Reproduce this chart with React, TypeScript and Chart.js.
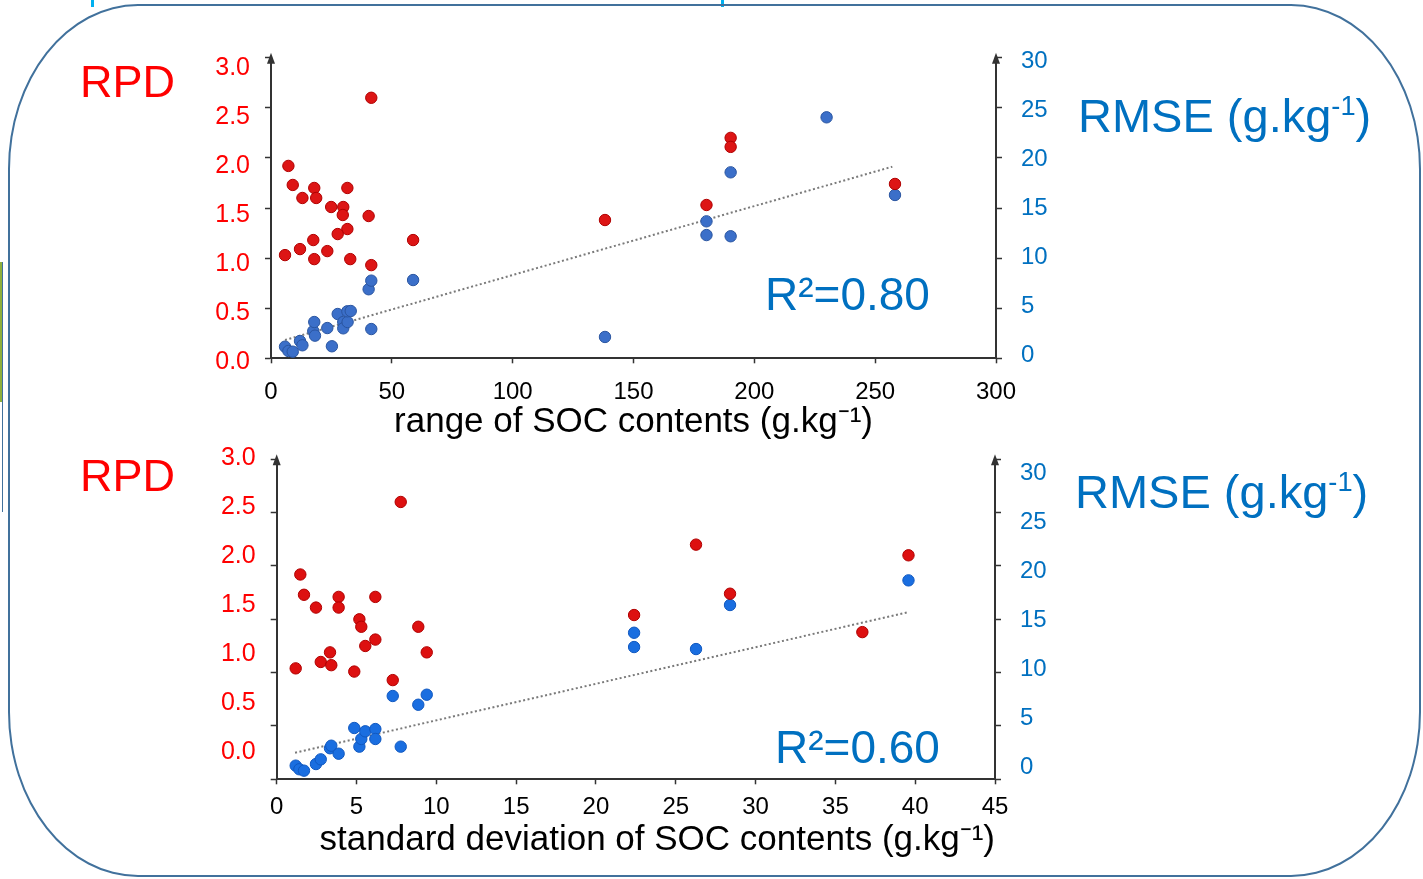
import React, { useEffect, useRef } from 'react';
import { Chart, registerables } from 'chart.js';

Chart.register(...registerables);

// ---------- data: top panel (range of SOC contents) ----------
const rangeRedX = [7.2, 9.0, 13.0, 17.9, 18.7, 24.9, 29.9, 29.7, 31.6, 40.4, 41.5, 31.6, 27.6, 17.5, 12.0, 5.8, 17.9, 23.3, 32.8, 41.5, 58.8, 138.2, 180.2, 190.2, 190.2, 258.2];
const rangeRPD = [1.92, 1.73, 1.60, 1.70, 1.60, 1.51, 1.51, 1.43, 1.70, 1.42, 2.60, 1.29, 1.24, 1.18, 1.09, 1.03, 0.99, 1.07, 0.99, 0.93, 1.18, 1.38, 1.53, 2.20, 2.11, 1.74];
const rangeBlueX = [5.8, 7.2, 9.0, 12.0, 13.0, 17.5, 17.9, 18.2, 23.3, 25.2, 27.6, 29.9, 29.9, 31.7, 31.6, 33.0, 40.4, 41.5, 41.5, 58.8, 138.2, 180.2, 180.2, 190.2, 190.2, 229.9, 258.2];
const rangeRMSE = [1.16, 0.73, 0.66, 1.73, 1.30, 2.72, 3.62, 2.26, 3.02, 1.20, 4.42, 3.62, 2.99, 3.62, 4.69, 4.72, 6.89, 7.75, 2.92, 7.81, 2.13, 13.67, 12.30, 18.56, 12.18, 24.05, 16.30];
const rangeTrendX = [5.8, 257.1];
const rangeTrendY = [1.83, 19.12];

// ---------- data: bottom panel (standard deviation of SOC contents) ----------
const sdRedX = [1.48, 1.71, 2.46, 3.88, 3.88, 5.18, 5.30, 6.18, 6.18, 5.55, 8.87, 9.40, 3.34, 2.76, 3.42, 1.19, 4.86, 7.27, 7.77, 22.39, 26.27, 28.40, 36.69, 39.58];
const sdRPD = [1.92, 1.73, 1.61, 1.71, 1.61, 1.50, 1.43, 1.71, 1.31, 1.25, 1.43, 1.19, 1.19, 1.10, 1.07, 1.04, 1.01, 0.93, 2.60, 1.54, 2.20, 1.74, 1.38, 2.10];
const sdBlueX = [1.19, 1.42, 1.71, 2.46, 2.76, 3.34, 3.42, 3.88, 4.86, 5.18, 5.30, 5.55, 6.18, 6.18, 7.77, 7.27, 8.87, 9.40, 22.39, 22.39, 26.27, 28.40, 39.58];
const sdRMSE = [1.28, 0.94, 0.81, 1.43, 1.87, 2.91, 3.15, 2.40, 4.81, 3.06, 3.78, 4.50, 4.71, 3.78, 3.06, 7.81, 6.99, 7.93, 13.74, 12.40, 12.21, 16.34, 18.65];
const sdTrendX = [1.15, 39.51];
const sdTrendY = [2.49, 15.65];

// ---------- ticks ----------
const rpdTicks = [0, 0.5, 1.0, 1.5, 2.0, 2.5, 3.0];
const rmseTicks = [0, 5, 10, 15, 20, 25, 30];
const rangeTicks = [0, 50, 100, 150, 200, 250, 300];
const sdTicks = [0, 5, 10, 15, 20, 25, 30, 35, 40, 45];

const FONT = '"Liberation Sans", Arial, Helvetica, sans-serif';
const AXIS = '#333333';
const RED = '#FF0000';
const BLUE_TXT = '#0070C0';

const pts = (xs: number[], ys: number[]) => xs.map((x, i) => ({ x, y: ys[i] }));
const setTicks = (values: number[]) => (axis: any) => {
  axis.ticks = values.map((v) => ({ value: v }));
};
const noPad = (s: any) => {
  s.paddingTop = 0;
  s.paddingBottom = 0;
  s.paddingLeft = 0;
  s.paddingRight = 0;
};

type Panel = {
  h: number;
  left: number;
  right: number;
  top: number;
  bottom: number;
  xMax: number;
  xTicks: number[];
  xTitle: string;
  titleAlign: 'start' | 'center' | 'end';
  titleSize: number;
  titleLineHeight: number;
  titlePadBottom: number;
  xLabelPad: number;
  labL: [number, number];
  labR: [number, number];
  redX: number[];
  redY: number[];
  blueX: number[];
  blueY: number[];
  trendX: number[];
  trendY: number[];
  red: string;
  redEdge: string;
  blue: string;
  blueEdge: string;
};

function makeConfig(p: Panel): any {
  const arrows = {
    id: 'arrows',
    afterDraw(chart: any) {
      const { ctx, chartArea } = chart;
      ctx.save();
      ctx.fillStyle = AXIS;
      [chartArea.left, chartArea.right].forEach((x: number) => {
        ctx.beginPath();
        ctx.moveTo(x, chartArea.top - 5);
        ctx.lineTo(x - 4, chartArea.top + 6);
        ctx.lineTo(x + 4, chartArea.top + 6);
        ctx.closePath();
        ctx.fill();
      });
      ctx.restore();
    },
  };
  const dataAxisGrid = {
    display: true,
    drawOnChartArea: false,
    drawTicks: true,
    tickLength: 6,
    tickColor: AXIS,
    tickWidth: 1.5,
  };
  const border = { display: true, color: AXIS, width: 2 };
  return {
    type: 'scatter',
    data: {
      datasets: [
        {
          label: 'RPD',
          data: pts(p.redX, p.redY),
          yAxisID: 'y',
          backgroundColor: p.red,
          borderColor: p.redEdge,
          borderWidth: 1,
          pointRadius: 5.7,
          order: 1,
        },
        {
          label: 'RMSE',
          data: pts(p.blueX, p.blueY),
          yAxisID: 'yRMSE',
          backgroundColor: p.blue,
          borderColor: p.blueEdge,
          borderWidth: 1,
          pointRadius: 5.7,
          order: 2,
        },
        {
          label: 'trend',
          data: pts(p.trendX, p.trendY),
          yAxisID: 'yRMSE',
          showLine: true,
          borderColor: '#7a7a7a',
          borderWidth: 2,
          borderDash: [2, 2.5],
          pointRadius: 0,
          fill: false,
          order: 3,
        },
      ],
    },
    options: {
      animation: false,
      responsive: false,
      devicePixelRatio: 1,
      layout: { padding: { top: p.top, left: 0, right: 0, bottom: 0 } },
      plugins: { legend: { display: false }, tooltip: { enabled: false } },
      scales: {
        x: {
          type: 'linear',
          position: 'bottom',
          min: 0,
          max: p.xMax,
          afterBuildTicks: setTicks(p.xTicks),
          grid: { ...dataAxisGrid, tickLength: 5 },
          border,
          ticks: {
            color: '#000',
            font: { size: 24, family: FONT },
            padding: p.xLabelPad,
            maxRotation: 0,
            minRotation: 0,
            autoSkip: false,
          },
          title: {
            display: true,
            text: p.xTitle,
            color: '#000',
            align: p.titleAlign,
            font: { size: p.titleSize, family: FONT, lineHeight: p.titleLineHeight },
            padding: { top: 0, bottom: p.titlePadBottom },
          },
          afterFit: (s: any) => {
            s.height = p.h - p.bottom;
            noPad(s);
          },
        },
        y: {
          type: 'linear',
          position: 'left',
          min: 0,
          max: 3,
          weight: 0,
          afterBuildTicks: setTicks(rpdTicks),
          grid: dataAxisGrid,
          border,
          ticks: { display: false },
          afterFit: (s: any) => {
            s.width = 0;
            noPad(s);
          },
        },
        yLabL: {
          type: 'linear',
          position: 'left',
          min: p.labL[0],
          max: p.labL[1],
          weight: 5,
          afterBuildTicks: setTicks(rpdTicks),
          grid: { display: false, drawTicks: false },
          border: { display: false },
          ticks: {
            color: RED,
            font: { size: 25, family: FONT },
            padding: 21,
            autoSkip: false,
            callback: (v: any) => Number(v).toFixed(1),
          },
          afterFit: (s: any) => {
            s.width = p.left;
            noPad(s);
          },
        },
        yRMSE: {
          type: 'linear',
          position: 'right',
          min: 0,
          max: 30,
          weight: 0,
          afterBuildTicks: setTicks(rmseTicks),
          grid: dataAxisGrid,
          border,
          ticks: { display: false },
          afterFit: (s: any) => {
            s.width = 0;
            noPad(s);
          },
        },
        yLabR: {
          type: 'linear',
          position: 'right',
          min: p.labR[0],
          max: p.labR[1],
          weight: 5,
          afterBuildTicks: setTicks(rmseTicks),
          grid: { display: false, drawTicks: false },
          border: { display: false },
          ticks: {
            color: BLUE_TXT,
            font: { size: 24, family: FONT },
            padding: 25,
            autoSkip: false,
            callback: (v: any) => String(v),
          },
          afterFit: (s: any) => {
            s.width = 1423 - p.right;
            noPad(s);
          },
        },
      },
    },
    plugins: [arrows],
  };
}

const topPanel: Panel = {
  h: 440,
  left: 271,
  right: 996,
  top: 57.7,
  bottom: 358.3,
  xMax: 300,
  xTicks: rangeTicks,
  xTitle: 'range of SOC contents (g.kg\u207B\u00B9)',
  titleAlign: 'center',
  titleSize: 35,
  titleLineHeight: 1.0,
  titlePadBottom: 0,
  xLabelPad: 15,
  labL: [0.038, 3.105],
  labR: [-0.337, 30.34],
  redX: rangeRedX,
  redY: rangeRPD,
  blueX: rangeBlueX,
  blueY: rangeRMSE,
  trendX: rangeTrendX,
  trendY: rangeTrendY,
  red: '#DD1515',
  redEdge: '#B00000',
  blue: '#3B6FC9',
  blueEdge: '#2A55A0',
};

const bottomPanel: Panel = {
  h: 439,
  left: 276.7,
  right: 995,
  top: 19.3,
  bottom: 339.3,
  xMax: 45,
  xTicks: sdTicks,
  xTitle: 'standard deviation of SOC contents (g.kg\u207B\u00B9)',
  titleAlign: 'end',
  titleSize: 35,
  titleLineHeight: 1.2,
  titlePadBottom: 18,
  xLabelPad: 9,
  labL: [-0.279, 2.987],
  labR: [-1.255, 31.4],
  redX: sdRedX,
  redY: sdRPD,
  blueX: sdBlueX,
  blueY: sdRMSE,
  trendX: sdTrendX,
  trendY: sdTrendY,
  red: '#DD1010',
  redEdge: '#B00000',
  blue: '#1A6EE0',
  blueEdge: '#1058C0',
};

function PanelChart({ panel, top }: { panel: Panel; top: number }) {
  const ref = useRef<HTMLCanvasElement | null>(null);
  useEffect(() => {
    if (!ref.current) return;
    const chart = new Chart(ref.current, makeConfig(panel));
    return () => chart.destroy();
  }, [panel]);
  return (
    <canvas
      ref={ref}
      width={1423}
      height={panel.h}
      style={{ position: 'absolute', left: 0, top, width: 1423, height: panel.h }}
    />
  );
}

const label = (extra: React.CSSProperties): React.CSSProperties => ({
  position: 'absolute',
  fontFamily: FONT,
  lineHeight: 1,
  whiteSpace: 'nowrap',
  zIndex: 2,
  ...extra,
});

const sup: React.CSSProperties = { fontSize: '0.58em', verticalAlign: '0.62em', lineHeight: 0 };

export default function App() {
  return (
    <div
      style={{
        position: 'fixed',
        left: 0,
        top: 0,
        width: 1423,
        height: 879,
        background: '#fff',
        overflow: 'hidden',
      }}
    >
      <PanelChart panel={topPanel} top={0} />
      <PanelChart panel={bottomPanel} top={440} />

      <div
        style={{
          position: 'absolute',
          left: 8,
          top: 4,
          width: 1413,
          height: 873,
          boxSizing: 'border-box',
          border: '2px solid #41719C',
          borderRadius: '130px / 165px',
          zIndex: 1,
          pointerEvents: 'none',
        }}
      />
      <div style={{ position: 'absolute', left: 0, top: 262, width: 3, height: 140, background: '#8FB03C' }} />
      <div style={{ position: 'absolute', left: 2, top: 262, width: 0, height: 250, borderLeft: '1.5px solid #41719C' }} />
      <div style={{ position: 'absolute', left: 91, top: 0, width: 3, height: 7, background: '#00B0F0' }} />
      <div style={{ position: 'absolute', left: 721, top: 0, width: 3, height: 7, background: '#00B0F0' }} />

      <div style={label({ left: 80, top: 59, fontSize: 45, color: RED })}>RPD</div>
      <div style={label({ left: 80, top: 453, fontSize: 45, color: RED })}>RPD</div>
      <div style={label({ left: 1078, top: 92, fontSize: 47, color: BLUE_TXT })}>
        RMSE (g.kg<sup style={sup}>-1</sup>)
      </div>
      <div style={label({ left: 1075, top: 468, fontSize: 47, color: BLUE_TXT })}>
        RMSE (g.kg<sup style={sup}>-1</sup>)
      </div>
      <div style={label({ left: 765, top: 271, fontSize: 46, color: BLUE_TXT })}>R²=0.80</div>
      <div style={label({ left: 775, top: 724, fontSize: 46, color: BLUE_TXT })}>R²=0.60</div>
    </div>
  );
}
